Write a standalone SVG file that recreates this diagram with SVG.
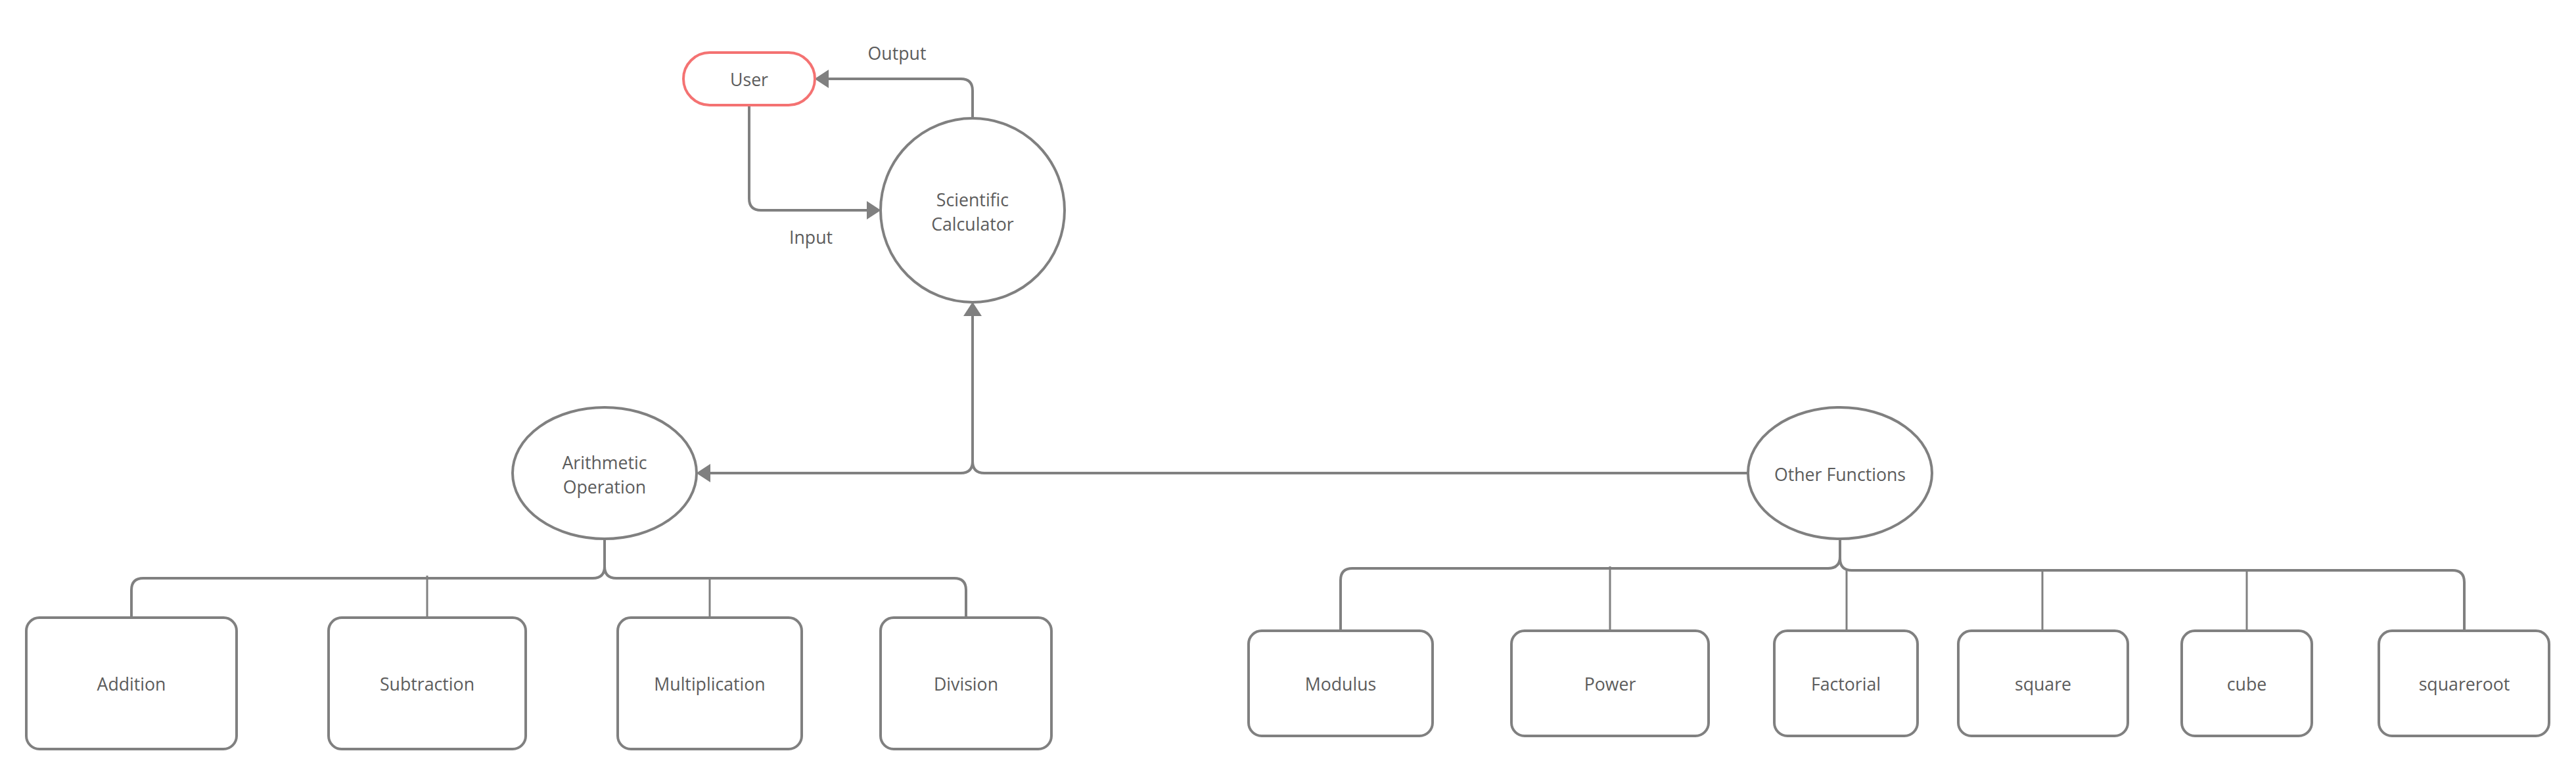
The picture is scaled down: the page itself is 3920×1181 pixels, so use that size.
<svg xmlns="http://www.w3.org/2000/svg" width="3920" height="1181" viewBox="0 0 3920 1181">
<defs>
<style>
.shape{fill:#ffffff;stroke:#808080;stroke-width:4}
.user{fill:#ffffff;stroke:#f47272;stroke-width:4}
.conn{fill:none;stroke:#808080;stroke-width:4}
.thin{fill:none;stroke:#808080;stroke-width:3}
.lbl{font-family:"Open Sans","Noto Sans",sans-serif;font-size:26.7px;fill:#5c5c5c;text-anchor:middle;dominant-baseline:central}
</style>
<marker id="arr" markerUnits="userSpaceOnUse" markerWidth="22" markerHeight="28" viewBox="0 0 20 26" refX="14" refY="13" orient="auto">
<path d="M0,0 L20,13 L0,26 z" fill="#808080"/>
</marker>
</defs>
<rect width="3920" height="1181" fill="#ffffff"/>
<g id="connectors">
<path class="conn" d="M1480,180 V138 Q1480,120 1462,120 H1246" marker-end="url(#arr)"/>
<path class="conn" d="M1140,160 V302 Q1140,320 1158,320 H1334" marker-end="url(#arr)"/>
<path class="conn" d="M2660,720 H1498 Q1480,720 1480,702 V466" marker-end="url(#arr)"/>
<path class="conn" d="M1480,480 V702 Q1480,720 1462,720 H1066" marker-end="url(#arr)"/>
<path class="conn" d="M920,820 V862 Q920,880 902,880 H218 Q200,880 200,898 V940"/>
<path class="conn" d="M920,820 V862 Q920,880 938,880 H1452 Q1470,880 1470,898 V940"/>
<path class="thin" d="M650,876 V940"/>
<path class="thin" d="M1080,880 V940"/>
<path class="conn" d="M2800,820 V847 Q2800,865 2782,865 H2058 Q2040,865 2040,883 V960"/>
<path class="conn" d="M2800,820 V850 Q2800,868 2818,868 H3732 Q3750,868 3750,886 V960"/>
<path class="thin" d="M2450,862 V960"/>
<path class="thin" d="M2810,868 V960"/>
<path class="thin" d="M3108,868 V960"/>
<path class="thin" d="M3419,868 V960"/>
</g>
<g id="label-output"><text class="lbl" x="1365" y="80">Output</text></g>
<g id="label-input"><text class="lbl" x="1234" y="360">Input</text></g>
<g id="node-user">
<rect class="user" x="1040" y="80" width="200" height="80" rx="40" ry="40"/>
<text class="lbl" x="1140" y="120">User</text>
</g>
<g id="node-calculator">
<circle class="shape" cx="1480" cy="320" r="140"/>
<text class="lbl" x="1480" y="303">Scientific</text>
<text class="lbl" x="1480" y="340">Calculator</text>
</g>
<g id="node-arithmetic">
<ellipse class="shape" cx="920" cy="720" rx="140" ry="100"/>
<text class="lbl" x="920" y="703">Arithmetic</text>
<text class="lbl" x="920" y="740">Operation</text>
</g>
<g id="node-other">
<ellipse class="shape" cx="2800" cy="720" rx="140" ry="100"/>
<text class="lbl" x="2800" y="721">Other Functions</text>
</g>
<g id="node-addition">
<rect class="shape" x="40" y="940" width="320" height="200" rx="20"/>
<text class="lbl" x="200" y="1040">Addition</text>
</g>
<g id="node-subtraction">
<rect class="shape" x="500" y="940" width="300" height="200" rx="20"/>
<text class="lbl" x="650" y="1040">Subtraction</text>
</g>
<g id="node-multiplication">
<rect class="shape" x="940" y="940" width="280" height="200" rx="20"/>
<text class="lbl" x="1080" y="1040">Multiplication</text>
</g>
<g id="node-division">
<rect class="shape" x="1340" y="940" width="260" height="200" rx="20"/>
<text class="lbl" x="1470" y="1040">Division</text>
</g>
<g id="node-modulus">
<rect class="shape" x="1900" y="960" width="280" height="160" rx="20"/>
<text class="lbl" x="2040" y="1040">Modulus</text>
</g>
<g id="node-power">
<rect class="shape" x="2300" y="960" width="300" height="160" rx="20"/>
<text class="lbl" x="2450" y="1040">Power</text>
</g>
<g id="node-factorial">
<rect class="shape" x="2700" y="960" width="218" height="160" rx="20"/>
<text class="lbl" x="2809" y="1040">Factorial</text>
</g>
<g id="node-square">
<rect class="shape" x="2980" y="960" width="258" height="160" rx="20"/>
<text class="lbl" x="3109" y="1040">square</text>
</g>
<g id="node-cube">
<rect class="shape" x="3320" y="960" width="198" height="160" rx="20"/>
<text class="lbl" x="3419" y="1040">cube</text>
</g>
<g id="node-squareroot">
<rect class="shape" x="3620" y="960" width="259" height="160" rx="20"/>
<text class="lbl" x="3750" y="1040">squareroot</text>
</g>
</svg>
